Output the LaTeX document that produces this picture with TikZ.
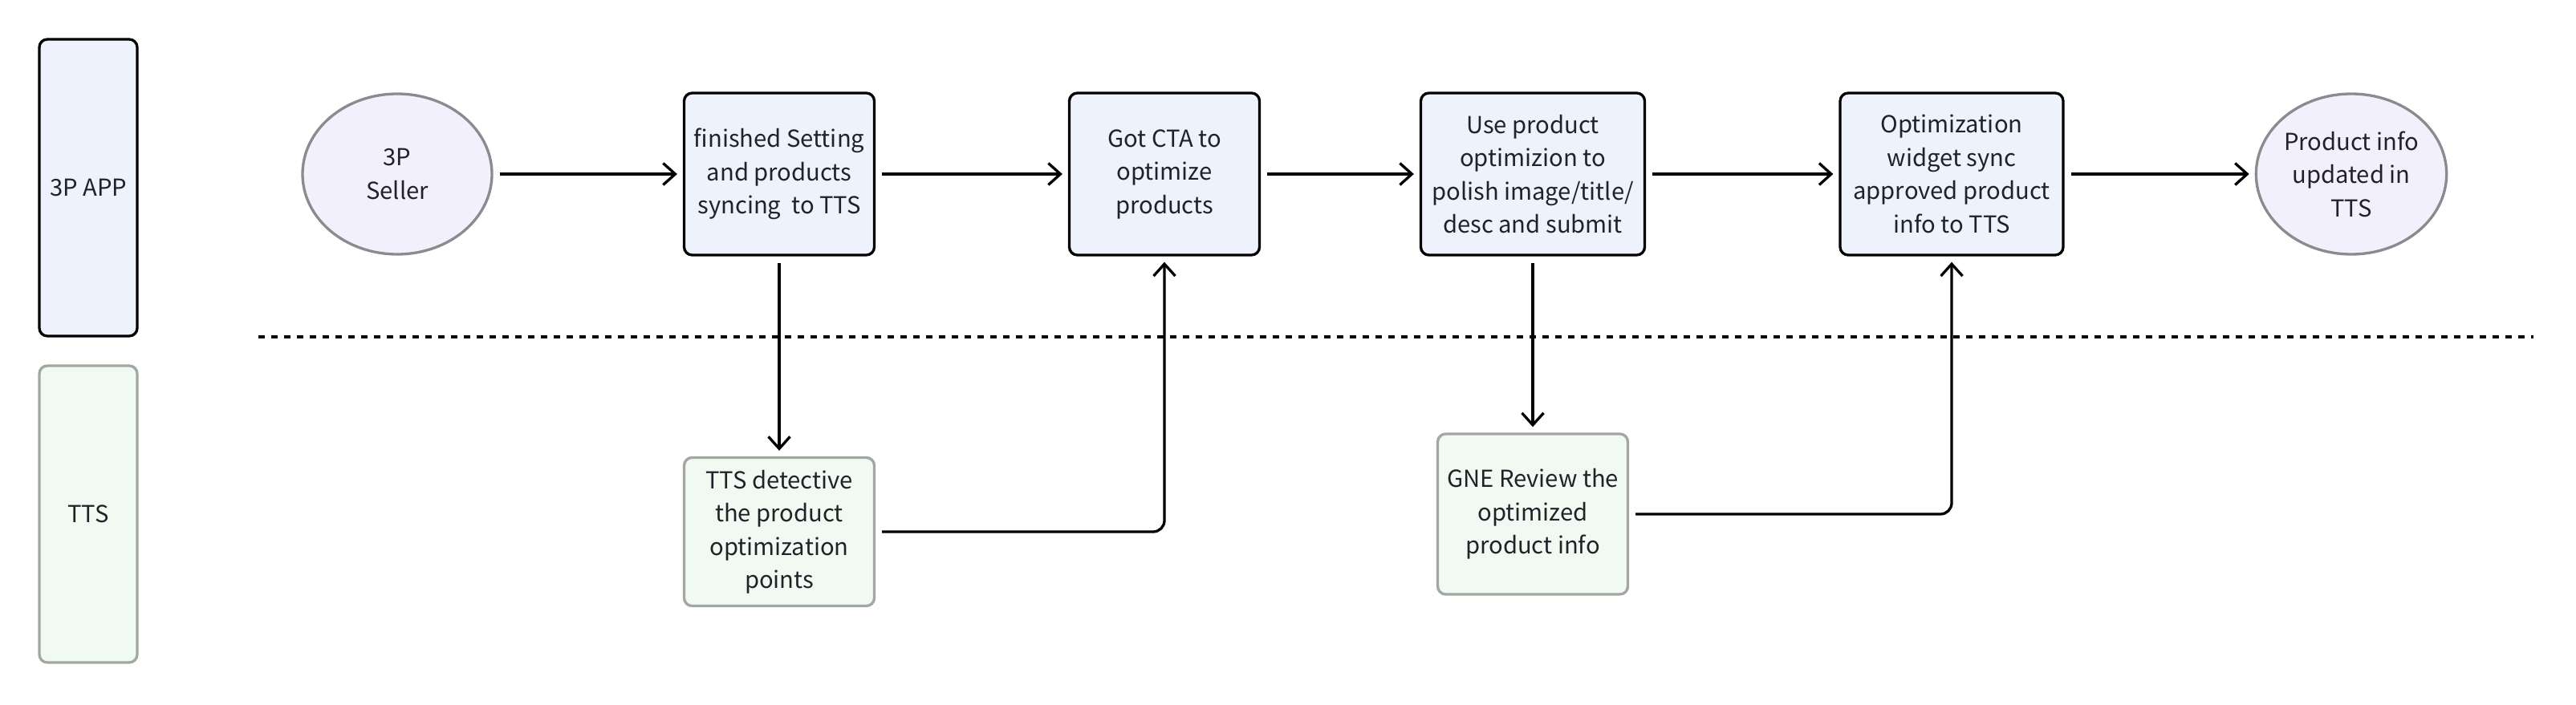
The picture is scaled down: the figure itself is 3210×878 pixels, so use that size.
\documentclass[tikz,border=0pt]{standalone}
\usepackage{fontspec}
\setmainfont{Noto Sans CJK SC}
\usetikzlibrary{arrows.meta,shapes.geometric}
\definecolor{appfill}{HTML}{EEF2FD}
\definecolor{ttsfill}{HTML}{F1FAF2}
\definecolor{endfill}{HTML}{F3F0FD}
\definecolor{ttsline}{HTML}{A2A7A2}
\definecolor{endline}{HTML}{8A8A8F}
\definecolor{txt}{HTML}{1F2329}
\begin{document}
\begin{tikzpicture}[x=0.5pt,y=-0.5pt,
 every node/.style={font=\fontsize{14.6}{20.75}\selectfont,text=txt,align=center},
 appbox/.style={draw=black,line width=1.65pt,fill=appfill,rounded corners=5pt,minimum width=118.5pt,minimum height=101pt,inner sep=2pt},
 ttsbox/.style={draw=ttsline,line width=1.65pt,fill=ttsfill,rounded corners=5pt,minimum width=118.5pt,inner sep=2pt},
 term/.style={ellipse,draw=endline,line width=1.65pt,fill=endfill,minimum width=118pt,minimum height=100pt,inner sep=0pt},
 flow/.style={-{Straight Barb[length=7.5pt,width=13.5pt]},line width=1.65pt,shorten <=4pt,shorten >=3.5pt,rounded corners=7pt}]
\useasboundingbox (0,0) rectangle (3210,878);
\node[appbox,minimum width=61pt,minimum height=185pt] (app) at (110,234) {3P APP};
\node[ttsbox,minimum width=61pt,minimum height=185pt] (tts) at (110,641) {TTS};
\draw[dash pattern=on 4pt off 4pt,line width=1.75pt] (322,420) -- (3157,420);
\node[term] (seller) at (495,217) {3P\\Seller};
\node[appbox] (sync) at (971,217) {finished Setting\\and products\\syncing~~to TTS};
\node[appbox] (cta) at (1451,217) {Got CTA to\\optimize\\products};
\node[appbox,minimum width=139.5pt] (polish) at (1910,217) {Use product\\optimizion to\\polish image/title/\\desc and submit};
\node[appbox,minimum width=139pt] (widget) at (2432,217) {Optimization\\widget sync\\approved product\\info to TTS};
\node[term] (done) at (2930,217) {Product info\\updated in\\TTS};
\node[ttsbox,minimum height=92.5pt] (detect) at (971,663) {TTS detective\\the product\\optimization\\points};
\node[ttsbox,minimum height=100pt] (review) at (1910,641) {GNE Review the\\optimized\\product info};
\draw[flow] (seller) -- (sync);
\draw[flow] (sync) -- (cta);
\draw[flow] (cta) -- (polish);
\draw[flow] (polish) -- (widget);
\draw[flow] (widget) -- (done);
\draw[flow] (sync) -- (detect);
\draw[flow] (detect) -| (cta);
\draw[flow] (polish) -- (review);
\draw[flow] (review) -| (widget);
\end{tikzpicture}
\end{document}
